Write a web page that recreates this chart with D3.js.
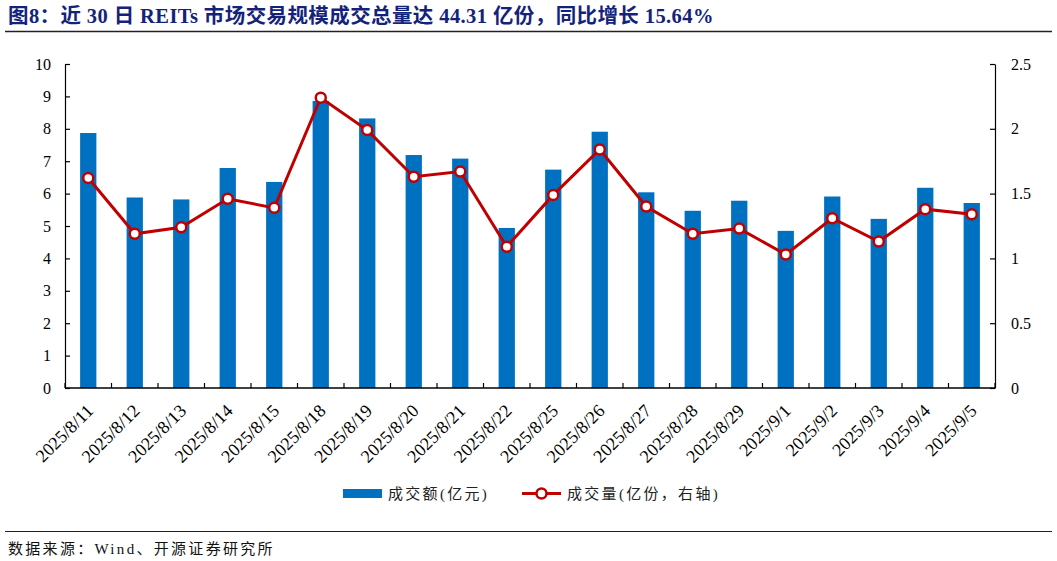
<!DOCTYPE html>
<html>
<head>
<meta charset="utf-8">
<script src="https://cdn.jsdelivr.net/npm/d3@7"></script>
<style>
  body { margin: 0; background: white; }
  svg { display: block; }
</style>
</head>
<body>
<div id="chart"></div>
<script>
// data
const dates = ["2025/8/11", "2025/8/12", "2025/8/13", "2025/8/14", "2025/8/15", "2025/8/18", "2025/8/19",
    "2025/8/20", "2025/8/21", "2025/8/22", "2025/8/25", "2025/8/26", "2025/8/27", "2025/8/28", "2025/8/29",
    "2025/9/1", "2025/9/2", "2025/9/3", "2025/9/4", "2025/9/5"]
const amount = [7.87, 5.88, 5.82, 6.79, 6.36, 8.86, 8.32, 7.19, 7.08, 4.94, 6.74, 7.91, 6.04, 5.47, 5.78,
    4.85, 5.91, 5.22, 6.18, 5.71]
const volume = [1.62, 1.19, 1.24, 1.46, 1.39, 2.24, 1.99, 1.63, 1.67, 1.09, 1.49, 1.84, 1.40, 1.19, 1.23,
    1.03, 1.31, 1.13, 1.38, 1.34]
const leftTicks = [0, 1, 2, 3, 4, 5, 6, 7, 8, 9, 10]
const rightTicks = [0, 0.5, 1, 1.5, 2, 2.5]

const titleText = "图8：近 30 日 REITs 市场交易规模成交总量达 44.31 亿份，同比增长 15.64%"
const sourceText = "数据来源：Wind、开源证券研究所"
const legendNames = ["成交额(亿元)", "成交量(亿份，右轴)"]

const W = 1057, H = 561
const plot = { left: 65, right: 995, top: 64, bottom: 388 }
const barColor = "#0070C0"
const lineColor = "#C00000"
const serif = "'Liberation Serif', 'Noto Sans CJK SC', serif"
const cjk = "'Liberation Serif', 'Noto Sans CJK SC', sans-serif"

const svg = d3.select("#chart").append("svg")
    .attr("width", W)
    .attr("height", H)
    .style("background", "white")

// title + rules
svg.append("text")
    .attr("x", 8)
    .attr("y", 23)
    .style("font-family", cjk)
    .style("font-weight", "bold")
    .style("font-size", "20.5px")
    .style("letter-spacing", "0.4px")
    .style("fill", "#14237a")
    .text(titleText)

svg.append("line")
    .attr("x1", 5).attr("x2", 1052)
    .attr("y1", 31.5).attr("y2", 31.5)
    .style("stroke", "#222")
    .style("stroke-width", 1.5)

svg.append("line")
    .attr("x1", 5).attr("x2", 1052)
    .attr("y1", 531.5).attr("y2", 531.5)
    .style("stroke", "#222")
    .style("stroke-width", 1.2)

svg.append("text")
    .attr("x", 8)
    .attr("y", 554)
    .style("font-family", cjk)
    .style("font-size", "15px")
    .style("letter-spacing", "2.3px")
    .style("fill", "#111")
    .text(sourceText)

// scales
const x = d3.scaleBand()
    .domain(dates)
    .range([plot.left, plot.right])
    .paddingInner(0.65)
    .paddingOuter(0.325)

const yL = d3.scaleLinear().domain([0, 10]).range([plot.bottom, plot.top])
const yR = d3.scaleLinear().domain([0, 2.5]).range([plot.bottom, plot.top])

// bars
svg.append("g")
    .selectAll("rect")
    .data(amount)
    .join("rect")
    .attr("x", (d, i) => x(dates[i]))
    .attr("y", d => yL(d))
    .attr("width", x.bandwidth())
    .attr("height", d => yL(0) - yL(d))
    .style("fill", barColor)

// axes
const axisStyle = g => {
    g.selectAll("path, line").style("stroke", "#000").style("stroke-width", 1.2)
    g.selectAll("text").style("font-family", serif).style("font-size", "16px").style("fill", "#000")
}

svg.append("g")
    .attr("transform", "translate(" + plot.left + ",0)")
    .call(d3.axisLeft(yL).tickValues(leftTicks).tickSizeInner(-5).tickSizeOuter(0).tickPadding(14))
    .call(axisStyle)

svg.append("g")
    .attr("transform", "translate(" + plot.right + ",0)")
    .call(d3.axisRight(yR).tickValues(rightTicks).tickFormat(d3.format("")).tickSizeInner(-5).tickSizeOuter(0).tickPadding(16))
    .call(axisStyle)

// x axis: ticks between categories, labels rotated
const step = x.step()
const boundaries = d3.range(dates.length + 1).map(i => plot.left + i * step)
const xAxis = svg.append("g")
xAxis.append("line")
    .attr("x1", plot.left).attr("x2", plot.right)
    .attr("y1", plot.bottom).attr("y2", plot.bottom)
    .style("stroke", "#000")
    .style("stroke-width", 1.5)
xAxis.selectAll(".tk")
    .data(boundaries)
    .join("line")
    .attr("class", "tk")
    .attr("x1", d => d).attr("x2", d => d)
    .attr("y1", plot.bottom).attr("y2", plot.bottom - 5)
    .style("stroke", "#000")
    .style("stroke-width", 1.2)
xAxis.selectAll("text")
    .data(dates)
    .join("text")
    .attr("transform", d => "translate(" + (x(d) + x.bandwidth() / 2 + 6) + "," + (plot.bottom + 24) + ") rotate(-45)")
    .attr("text-anchor", "end")
    .style("font-family", serif)
    .style("font-size", "18px")
    .style("fill", "#000")
    .text(d => d)

// line series on right axis
const cx = (d, i) => x(dates[i]) + x.bandwidth() / 2
const line = d3.line()
    .x(cx)
    .y(d => yR(d))

svg.append("path")
    .datum(volume)
    .attr("d", line)
    .style("fill", "none")
    .style("stroke", lineColor)
    .style("stroke-width", 3)

svg.append("g")
    .selectAll("circle")
    .data(volume)
    .join("circle")
    .attr("cx", cx)
    .attr("cy", d => yR(d))
    .attr("r", 5)
    .style("fill", "white")
    .style("stroke", lineColor)
    .style("stroke-width", 2.5)

// legend
const legend = svg.append("g")
legend.append("rect")
    .attr("x", 343).attr("y", 489)
    .attr("width", 39).attr("height", 9)
    .style("fill", barColor)
legend.append("text")
    .attr("x", 388).attr("y", 499)
    .style("font-family", cjk)
    .style("font-size", "15px")
    .style("letter-spacing", "2.3px")
    .style("fill", "#222")
    .text(legendNames[0])

legend.append("line")
    .attr("x1", 522).attr("x2", 561)
    .attr("y1", 493.5).attr("y2", 493.5)
    .style("stroke", lineColor)
    .style("stroke-width", 3)
legend.append("circle")
    .attr("cx", 541.5).attr("cy", 493.5).attr("r", 5)
    .style("fill", "white")
    .style("stroke", lineColor)
    .style("stroke-width", 2.5)
legend.append("text")
    .attr("x", 567).attr("y", 499)
    .style("font-family", cjk)
    .style("font-size", "15px")
    .style("letter-spacing", "2.3px")
    .style("fill", "#222")
    .text(legendNames[1])
</script>
</body>
</html>
